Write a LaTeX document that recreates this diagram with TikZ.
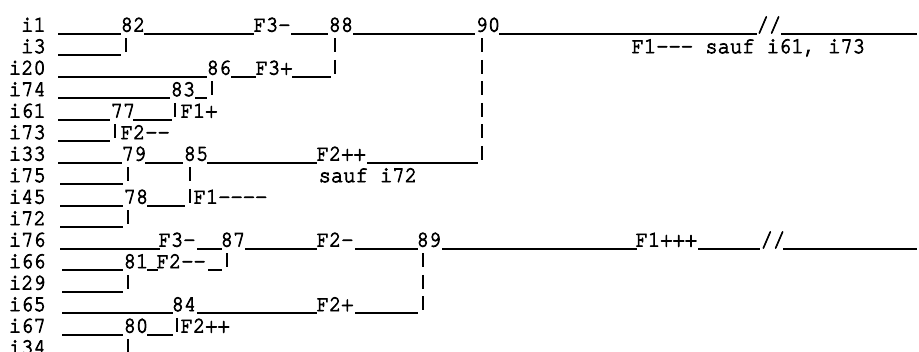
\documentclass[tikz,border=0pt]{standalone}
\usepackage{fontspec}
\setmonofont{TeX Gyre Cursor}[FakeBold=3.5,FakeStretch=0.91]
\newcommand\tw{\ttfamily\fontsize{22.5}{26}\selectfont}
\newcommand\hseg[3]{\draw[ln] (#1,{33.8+21.5*#3}) -- (#2,{33.8+21.5*#3});}
\newcommand\vseg[2]{\draw[ln] (#1,{33.8+21.5*#2-17}) -- (#1,{33.8+21.5*#2-3});}
\newcommand\tlab[4]{\node[tx] (#1) at ({#2-1.5},{31.6+21.5*#3}) {#4};}
\begin{document}
\begin{tikzpicture}[x=1pt,y=-1pt,
  ln/.style={line width=1.6pt,line cap=butt},
  tx/.style={anchor=base west,inner sep=0pt,font=\tw},
  lab/.style={anchor=base east,inner sep=0pt,font=\tw}]
\useasboundingbox (0,0) rectangle (919,352);
% leaf labels
\foreach \lab [count=\r from 0] in {i1,i3,i20,i74,i61,i73,i33,i75,i45,i72,i76,i66,i29,i65,i67,i34}
  \node[lab] (L\lab) at (46,{31.6+21.5*\r}) {\lab};
% text on the tree
\tlab{n82}{122}{0}{82}
\tlab{f3a}{255}{0}{F3-}
\tlab{n88}{330}{0}{88}
\tlab{n90}{477}{0}{90}
\tlab{brk1}{758}{0}{//}
\tlab{cm1}{633}{1}{F1--- sauf i61, i73}
\tlab{n86}{208}{2}{86}
\tlab{f3b}{257}{2}{F3+}
\tlab{n83}{172}{3}{83}
\tlab{n77}{112}{4}{77}
\tlab{f1a}{182}{4}{F1+}
\tlab{f2a}{122}{5}{F2--}
\tlab{n79}{123}{6}{79}
\tlab{n85}{185}{6}{85}
\tlab{f2b}{318}{6}{F2++}
\tlab{cm2}{320}{7}{sauf i72}
\tlab{n78}{125}{8}{78}
\tlab{f1b}{195}{8}{F1----}
\tlab{f3c}{160}{10}{F3-}
\tlab{n87}{222}{10}{87}
\tlab{f2c}{318}{10}{F2-}
\tlab{n89}{418}{10}{89}
\tlab{f1c}{637}{10}{F1+++}
\tlab{brk2}{762}{10}{//}
\tlab{n81}{125}{11}{81}
\tlab{f2d}{158}{11}{F2--}
\tlab{n84}{173}{13}{84}
\tlab{f2e}{318}{13}{F2+}
\tlab{n80}{125}{14}{80}
\tlab{f2f}{182}{14}{F2++}
% horizontal strokes
\hseg{58}{121}{0}\hseg{144}{254}{0}\hseg{291}{328}{0}\hseg{353}{475}{0}\hseg{499}{757}{0}\hseg{781}{917}{0}
\hseg{58}{121}{1}
\hseg{58}{207}{2}\hseg{231}{256}{2}\hseg{292}{331}{2}
\hseg{58}{170}{3}\hseg{195}{207}{3}
\hseg{58}{110}{4}\hseg{133}{172}{4}
\hseg{58}{110}{5}
\hseg{58}{122}{6}\hseg{145}{183}{6}\hseg{207}{317}{6}\hseg{367}{478}{6}
\hseg{60}{123}{7}
\hseg{60}{123}{8}\hseg{147}{185}{8}
\hseg{60}{123}{9}
\hseg{60}{160}{10}\hseg{197}{222}{10}\hseg{245}{317}{10}\hseg{355}{418}{10}\hseg{442}{637}{10}\hseg{698}{760}{10}\hseg{783}{917}{10}
\hseg{62}{123}{11}\hseg{147}{158}{11}\hseg{208}{222}{11}
\hseg{62}{123}{12}
\hseg{62}{173}{13}\hseg{197}{317}{13}\hseg{355}{418}{13}
\hseg{62}{123}{14}\hseg{147}{173}{14}
% vertical strokes
\vseg{126}{1}
\vseg{335}{1}\vseg{335}{2}
\foreach \r in {1,...,6} {\vseg{482}{\r}}
\vseg{212}{3}
\vseg{175}{4}
\vseg{115}{5}
\vseg{128}{7}
\vseg{190}{7}\vseg{190}{8}
\vseg{128}{9}
\vseg{227}{11}
\foreach \r in {11,12,13} {\vseg{423}{\r}}
\vseg{128}{12}
\vseg{177}{14}
\vseg{128}{15}
\end{tikzpicture}
\end{document}
